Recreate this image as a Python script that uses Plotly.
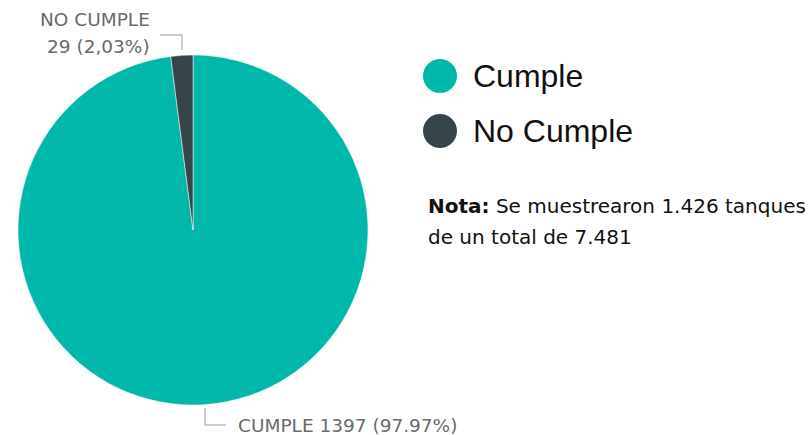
import plotly.graph_objects as go

categories = ["Cumple", "No Cumple"]
values = [1397, 29]
colors = ["#00B8A9", "#36454A"]
slice_label_lines = [["CUMPLE 1397 (97.97%)"], ["NO CUMPLE", "29 (2,03%)"]]
note_bold = "Nota:"
note_lines = [" Se muestrearon 1.426 tanques", "de un total de 7.481"]

W, H = 809, 435
def px(x):
    return x / W
def py(y):
    return 1 - y / H

fig = go.Figure()
fig.add_trace(go.Pie(
    labels=categories, values=values, sort=False, direction="clockwise", rotation=0,
    marker=dict(colors=colors, line=dict(color="white", width=0.5)),
    textinfo="none", hoverinfo="label+value+percent", showlegend=False,
    domain=dict(x=[px(17), px(369)], y=[py(405), py(55)]),
))

lab_font = dict(family="DejaVu Sans", size=18.5, color="#6a6a6a")
ann = []
# slice labels
ann.append(dict(x=px(236), y=py(425), xref="paper", yref="paper", text=slice_label_lines[0][0],
                showarrow=False, xanchor="left", yanchor="middle", font=lab_font))
for j, t in enumerate(slice_label_lines[1]):
    ann.append(dict(x=px(152), y=py(20 + 26 * j), xref="paper", yref="paper", text=t,
                    showarrow=False, xanchor="right", yanchor="middle", font=lab_font))
shapes = []
line = dict(color="#999999", width=1)
shapes.append(dict(type="path", xref="paper", yref="paper",
                   path=f"M {px(160)} {py(35)} L {px(182)} {py(35)} L {px(182)} {py(50)}", line=line))
shapes.append(dict(type="path", xref="paper", yref="paper",
                   path=f"M {px(205)} {py(408)} L {px(205)} {py(425)} L {px(226)} {py(425)}", line=line))

# legend
leg_y = [76, 131]
for i, cat in enumerate(categories):
    cx, cy, r = 440, leg_y[i], 17
    shapes.append(dict(type="circle", xref="paper", yref="paper",
                       x0=px(cx - r), x1=px(cx + r), y0=py(cy + r), y1=py(cy - r),
                       fillcolor=colors[i], line=dict(width=0)))
    ann.append(dict(x=px(471), y=py(cy), xref="paper", yref="paper", text=cat,
                    showarrow=False, xanchor="left", yanchor="middle",
                    font=dict(family="Liberation Sans", size=32, color="#111111")))

note_font = dict(family="DejaVu Sans", size=20, color="#111111")
ann.append(dict(x=px(426), y=py(206), xref="paper", yref="paper",
                text=f"<b>{note_bold}</b>{note_lines[0]}", showarrow=False, xanchor="left",
                yanchor="middle", font=note_font))
ann.append(dict(x=px(426), y=py(237), xref="paper", yref="paper",
                text=note_lines[1], showarrow=False, xanchor="left",
                yanchor="middle", font=note_font))

fig.update_layout(width=W, height=H, margin=dict(l=0, r=0, t=0, b=0),
                  paper_bgcolor="white", plot_bgcolor="white",
                  annotations=ann, shapes=shapes)
fig.write_html("out.html", config={"displayModeBar": False},
               post_script="document.body.style.margin='0';document.body.style.overflow='hidden';")
